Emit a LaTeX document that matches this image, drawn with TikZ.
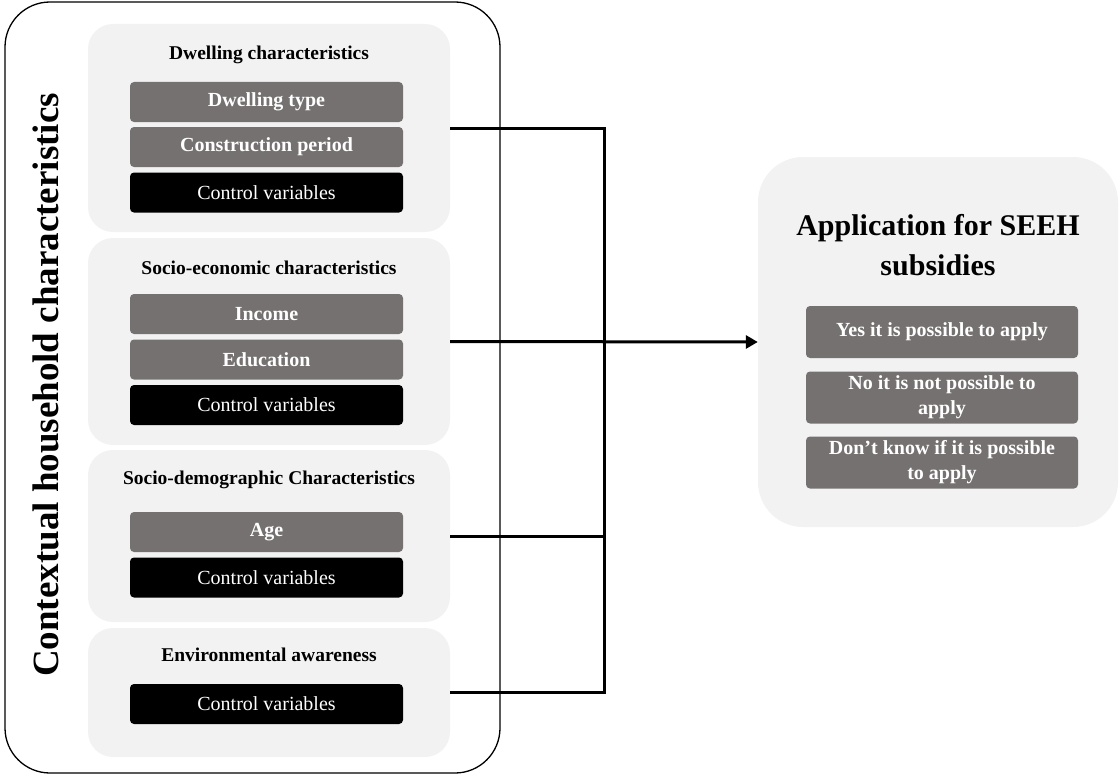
\documentclass[tikz,border=0pt]{standalone}
\usepackage{fontspec}
\setmainfont{Liberation Serif}
\usetikzlibrary{arrows.meta}
\definecolor{panelgray}{RGB}{242,242,242}
\definecolor{boxgray}{RGB}{118,113,113}

\begin{document}
\begin{tikzpicture}[x=1pt,y=-1pt,
  panel/.style={fill=panelgray, rounded corners=25pt, minimum width=362pt, inner sep=0pt},
  paneltitle/.style={font=\fontsize{19.5}{22}\selectfont\bfseries},
  varbox/.style={fill=boxgray, text=white, rounded corners=4pt, minimum width=273pt, minimum height=40pt, inner sep=0pt, font=\fontsize{20}{22}\selectfont\bfseries},
  ctrlbox/.style={fill=black, text=white, rounded corners=4pt, minimum width=273pt, minimum height=40pt, inner sep=0pt, font=\fontsize{20}{22}\selectfont},
  link/.style={line width=3pt}]
\useasboundingbox (0,0) rectangle (1120,776);

% Panels
\node[panel, minimum height=208pt] (dwell) at (269,128) {};
\node[panel, minimum height=207pt] (econ) at (269,341.5) {};
\node[panel, minimum height=172pt] (demo) at (269,536) {};
\node[panel, minimum height=129pt] (env) at (269,692.5) {};

% Titles
\node[paneltitle] (dwelltitle) at (269,55) {Dwelling characteristics};
\node[paneltitle] (econtitle) at (269,268) {Socio-economic characteristics};
\node[paneltitle] (demotitle) at (269,480) {Socio-demographic Characteristics};
\node[paneltitle] (envtitle) at (269,655) {Environmental awareness};

% Variables
\node[varbox] (dtype) at (266.5,102) {Dwelling type};
\node[varbox] (cperiod) at (266.5,147) {Construction period};
\node[ctrlbox] (ctrla) at (266.5,192.5) {Control variables};

\node[varbox] (income) at (266.5,314) {Income};
\node[varbox] (educ) at (266.5,359.5) {Education};
\node[ctrlbox] (ctrlb) at (266.5,405) {Control variables};

\node[varbox] (age) at (266.5,532) {Age};
\node[ctrlbox] (ctrlc) at (266.5,577.5) {Control variables};

\node[ctrlbox] (ctrld) at (266.5,704) {Control variables};

% Outcome
\node[fill=panelgray, rounded corners=45pt, minimum width=360pt, minimum height=370pt] (result) at (938,342) {};
\node[font=\fontsize{30}{40}\selectfont\bfseries, align=center] (restitle) at (938,245) {Application for SEEH\\subsidies};
\node[varbox, minimum width=272pt, minimum height=52pt, align=center, font=\fontsize{20}{25}\selectfont\bfseries] (yes) at (942,332) {Yes it is possible to apply};
\node[varbox, minimum width=272pt, minimum height=52pt, align=center, font=\fontsize{20}{25}\selectfont\bfseries] (no) at (942,397.5) {No it is not possible to\\apply};
\node[varbox, minimum width=272pt, minimum height=52pt, align=center, font=\fontsize{20}{25}\selectfont\bfseries] (dk) at (942,462.5) {Don’t know if it is possible\\to apply};

% Connectors
\coordinate (bus) at (604,341.5);
\draw[link] (dwell.east) -| (bus);
\draw[link] (env.east) -| (bus);
\draw[link] (demo.east) -- (demo.east -| bus);
\draw[link, -{Triangle[length=12pt,width=13pt]}] (econ.east) -- (result.west);

% Frame
\draw[line width=1.3pt, rounded corners=45pt] (5,2) rectangle (500,773);
\node[rotate=90, font=\fontsize{37}{42}\selectfont\bfseries] (context) at (46,385) {Contextual household characteristics};
\end{tikzpicture}
\end{document}
